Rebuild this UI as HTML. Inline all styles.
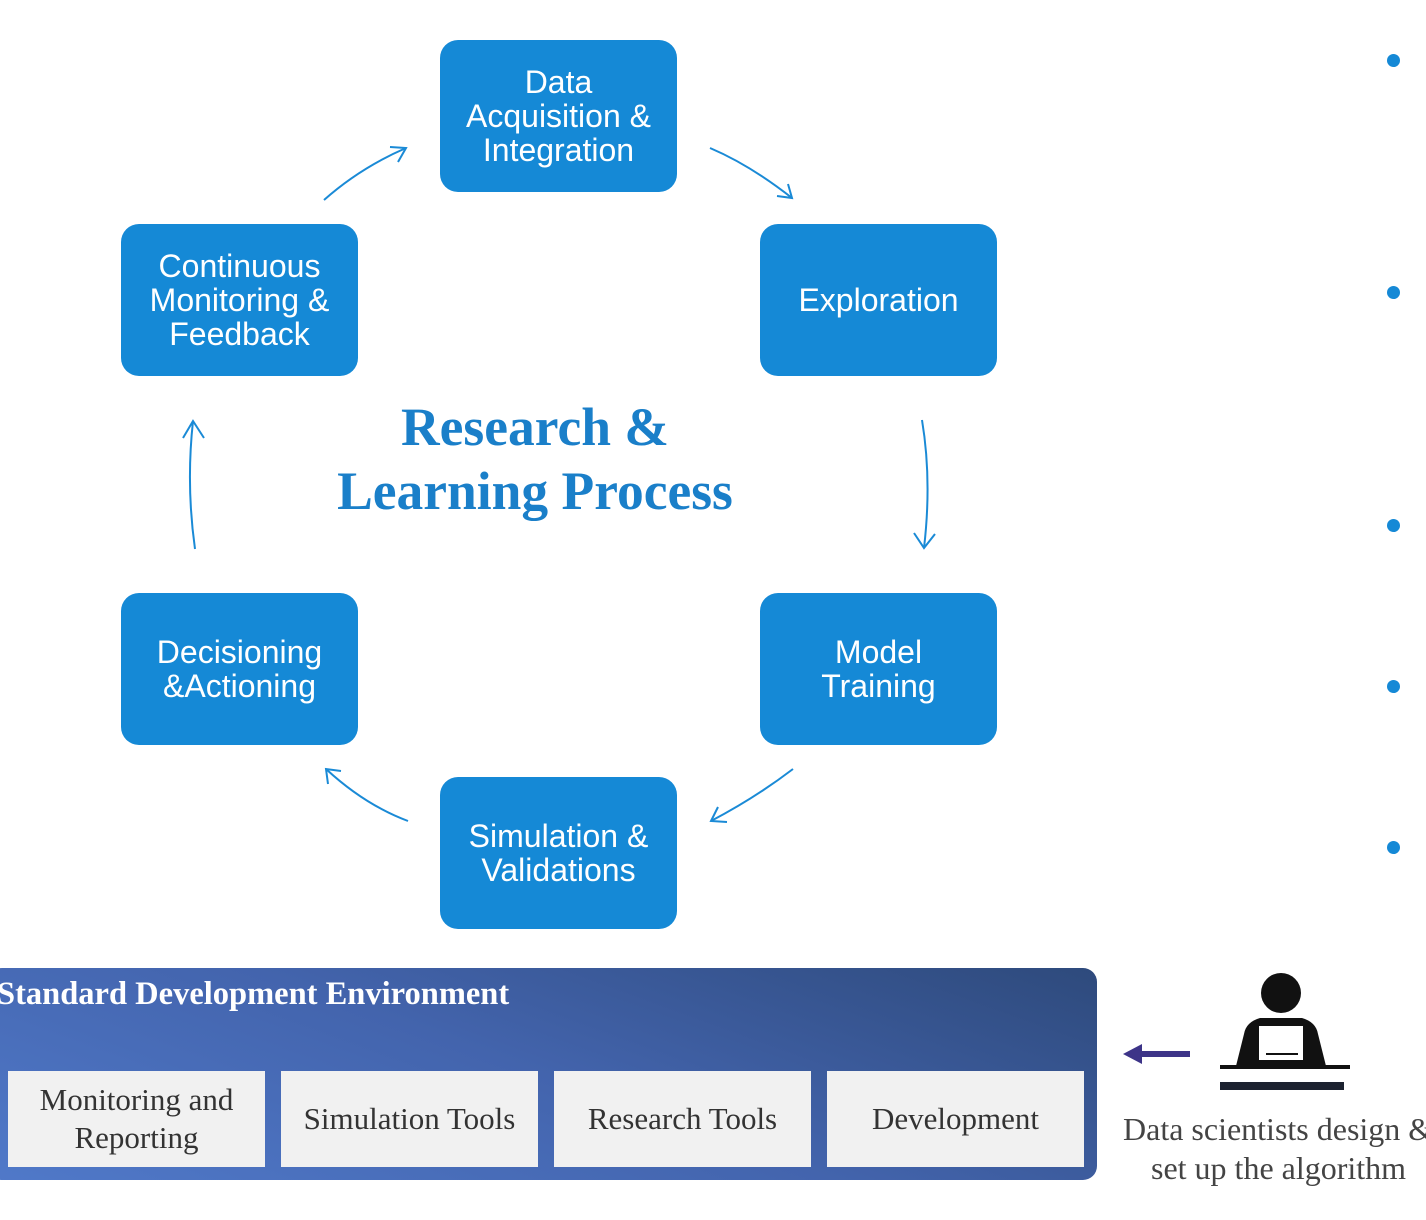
<!DOCTYPE html>
<html><head><style>
body{margin:0;width:1426px;height:1220px;background:#fff;position:relative;overflow:hidden;font-family:"Liberation Sans",sans-serif}
.n{position:absolute;width:237px;height:152px;background:#1589d6;border-radius:18px;color:#fff;font-size:32px;line-height:34px;display:flex;align-items:center;justify-content:center;text-align:center}
.dot{position:absolute;left:1387px;width:13px;height:13px;border-radius:50%;background:#1589d6}
.panel{position:absolute;left:-12px;top:968px;width:1109px;height:212px;border-radius:14px;background:linear-gradient(200deg,#2e4a7c 0%,#4364ad 50%,#5079c9 100%)}
.t{position:absolute;top:1071px;height:96px;width:257px;background:#f1f1f1;font-family:"Liberation Serif",serif;font-size:31px;line-height:38px;color:#333;display:flex;align-items:center;justify-content:center;text-align:center}
</style></head><body>
<div class="n" style="left:440px;top:40px">Data<br>Acquisition &amp;<br>Integration</div>
<div class="n" style="left:760px;top:224px">Exploration</div>
<div class="n" style="left:121px;top:224px">Continuous<br>Monitoring &amp;<br>Feedback</div>
<div class="n" style="left:121px;top:593px">Decisioning<br>&amp;Actioning</div>
<div class="n" style="left:760px;top:593px">Model<br>Training</div>
<div class="n" style="left:440px;top:777px">Simulation &amp;<br>Validations</div>
<div style="position:absolute;left:285px;top:395px;width:500px;text-align:center;font-family:'Liberation Serif',serif;font-weight:bold;font-size:53.5px;line-height:64px;color:#1a7fc9">Research &amp;<br>Learning Process</div>
<svg style="position:absolute;left:0;top:0" width="1426" height="1220" fill="none" stroke="#1a8ad6" stroke-width="2">
<path d="M324 200 Q360 168 406 148"/><path d="M390 147 L406 148 L398 162"/>
<path d="M710 148 Q750 165 792 198"/><path d="M777 196 L792 198 L788 184"/>
<path d="M922 420 Q932 480 924 548"/><path d="M914 533 L924 548 L935 534"/>
<path d="M793 769 Q755 798 711 821"/><path d="M718 807 L711 821 L727 822"/>
<path d="M408 821 Q365 805 326 769"/><path d="M328 784 L326 769 L341 771"/>
<path d="M195 549 Q186 485 193 421"/><path d="M183 438 L193 421 L204 438"/>
</svg>
<div class="dot" style="top:54px"></div><div class="dot" style="top:286px"></div><div class="dot" style="top:519px"></div><div class="dot" style="top:680px"></div><div class="dot" style="top:841px"></div>
<div class="panel"></div>
<div style="position:absolute;left:-3px;top:976px;font-family:'Liberation Serif',serif;font-weight:bold;font-size:32.5px;color:#fff">Standard Development Environment</div>
<div class="t" style="left:8px">Monitoring and<br>Reporting</div>
<div class="t" style="left:281px">Simulation Tools</div>
<div class="t" style="left:554px">Research Tools</div>
<div class="t" style="left:827px">Development</div>
<svg style="position:absolute;left:1120px;top:960px" width="240" height="140">
<rect x="18" y="91" width="52" height="6" fill="#3d3488"/><polygon points="3,94 22,84 22,104" fill="#3d3488"/>
<circle cx="161" cy="33" r="20" fill="#111"/>
<path d="M140 58 L182 58 Q196 62 198 74 L206 106 L116 106 L124 74 Q126 62 140 58Z" fill="#111"/>
<rect x="139" y="66" width="44" height="34" fill="#fff"/><rect x="146" y="93" width="32" height="2" fill="#111"/>
<rect x="100" y="105" width="130" height="4" fill="#111"/>
<rect x="100" y="122" width="124" height="8" fill="#1c2230"/>
</svg>
<div style="position:absolute;left:1123px;top:1110px;width:340px;font-family:'Liberation Serif',serif;font-size:32px;line-height:39px;color:#444;white-space:nowrap">Data scientists design &amp;<br><span style="padding-left:28px">set up the algorithm</span></div>
</body></html>
